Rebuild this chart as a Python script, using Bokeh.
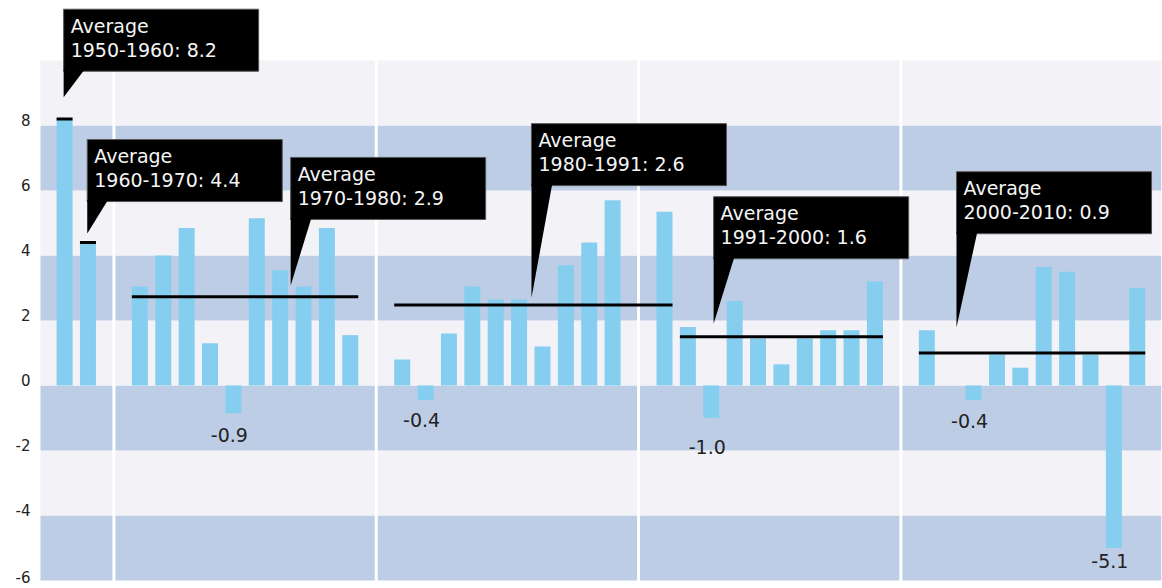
from bokeh.plotting import figure
from bokeh.models import Range1d, BoxAnnotation, Span
from bokeh.core.properties import value
from bokeh.embed import file_html
from bokeh.resources import INLINE

# ---------------- data ----------------
labels_5060 = ["1950-1960", "1960-1970"]
values_5060 = [8.2, 4.4]
labels_70s = ["1970", "1971", "1972", "1973", "1974", "1975", "1976", "1977", "1978", "1979"]
values_70s = [3.05, 4.0, 4.85, 1.3, -0.85, 5.15, 3.55, 3.05, 4.85, 1.55]
labels_80s = ["1980", "1981", "1982", "1983", "1984", "1985", "1986", "1987", "1988", "1989"]
values_80s = [0.8, -0.45, 1.6, 3.05, 2.65, 2.65, 1.2, 3.7, 4.4, 5.7]
labels_90s = ["1990", "1991", "1992", "1993", "1994", "1995", "1996", "1997", "1998", "1999"]
values_90s = [5.35, 1.8, -1.0, 2.6, 1.45, 0.65, 1.45, 1.7, 1.7, 3.2]
labels_00s = ["2000", "2001", "2002", "2003", "2004", "2005", "2006", "2007", "2008", "2009"]
values_00s = [1.7, 0.0, -0.45, 0.95, 0.55, 3.65, 3.5, 0.95, -5.0, 3.0]

# average lines: first bar, last bar, level
avg_first = ["1950-1960", "1960-1970", "1970", "1980", "1991", "2000"]
avg_last = ["1950-1960", "1960-1970", "1979", "1990", "1999", "2009"]
avg_levels = [8.2, 4.4, 2.73, 2.48, 1.5, 1.0]
avg_titles = ["1950-1960: 8.2", "1960-1970: 4.4", "1970-1980: 2.9",
              "1980-1991: 2.6", "1991-2000: 1.6", "2000-2010: 0.9"]

# value labels under negative bars
neg_at = ["1974", "1981", "1992", "2002", "2008"]
neg_text = ["-0.9", "-0.4", "-1.0", "-0.4", "-5.1"]

y_ticks = [-6, -4, -2, 0, 2, 4, 6, 8]
y_tick_labels = ["-6", "-4", "-2", "0", "2", "4", "6", "8"]

# ---------------- style / layout ----------------
BAR_COLOR = "#86CEEF"
BAND_DARK = "#BDCDE6"
BAND_LIGHT = "#F2F2F7"
GROUP_GAP = 1.22
BAR_W = 0.684
PX_X, PX_Y = 23.38, 32.5          # pixels per unit
FRAME_W, FRAME_H = 1161, 588
X0 = -1.03                        # left edge of the banded area
XL = X0 - 40 / PX_X               # room for tick labels
X1 = XL + FRAME_W / PX_X
Y_BOT, Y_TOP = -6, 10             # banded area
YL = Y_BOT - 8 / PX_Y
Y1 = YL + FRAME_H / PX_Y
FONT = value("DejaVu Sans")

# callout style: anchor bar, x shift (bar units), tip level, box bottom level
callout_anchor = ["1950-1960", "1960-1970", "1976", "1985", "1992", "2001"]
callout_dx = [-0.04, -0.03, 0.45, 0.53, 0.10, 0.27]
callout_tip_y = [8.87, 4.68, 3.08, 2.69, 1.90, 1.79]
callout_box_bottom = [9.67, 5.66, 5.11, 6.15, 3.90, 4.67]
BOX_W_PX, BOX_H_PX, POINTER_PX = 195, 62, 20.7
neg_dy = [22, 20, 29, 21, 13]
tick_dy = [-4, -6, -6, -6, -6, -6, -6, -6]

# ---------------- positions ----------------
groups = [(labels_5060, values_5060), (labels_70s, values_70s), (labels_80s, values_80s),
          (labels_90s, values_90s), (labels_00s, values_00s)]
xs, labs, vals, group_bounds = [], [], [], []
pos = 0.0
for gi, (gl, gv) in enumerate(groups):
    if gi > 0:
        pos += GROUP_GAP
    start = pos
    for l, v in zip(gl, gv):
        xs.append(pos); labs.append(l); vals.append(v)
        pos += 1
    group_bounds.append((start, pos - 1))
xmap = dict(zip(labs, xs))
vmap = dict(zip(labs, vals))

p = figure(frame_width=FRAME_W, frame_height=FRAME_H,
           x_range=Range1d(XL, X1), y_range=Range1d(YL, Y1),
           output_backend="svg", toolbar_location=None,
           x_axis_location=None, y_axis_location=None,
           title=None, min_border_left=0, min_border_right=1, min_border_top=0,
           min_border_bottom=0, background_fill_color="white",
           border_fill_color="white", outline_line_color=None)
p.grid.visible = False

# background bands
for i, b in enumerate(range(Y_BOT, Y_TOP, 2)):
    p.add_layout(BoxAnnotation(left=X0, bottom=b, top=b + 2,
                               fill_color=BAND_DARK if i % 2 == 0 else BAND_LIGHT,
                               fill_alpha=1, line_color=None, level="underlay"))
# group separators
for (a0, a1), (b0, b1) in zip(group_bounds[:-1], group_bounds[1:]):
    p.add_layout(Span(location=(a1 + b0) / 2, dimension="height", line_color="white",
                      line_width=3, level="underlay"))

p.vbar(x=xs, top=vals, bottom=0, width=BAR_W, fill_color=BAR_COLOR, line_color=None)

# average lines
p.segment(x0=[xmap[a] - BAR_W / 2 for a in avg_first], x1=[xmap[a] + BAR_W / 2 for a in avg_last],
          y0=avg_levels, y1=avg_levels, line_color="black", line_width=3, line_cap="butt")

# negative labels
p.text(x=[xmap[a] for a in neg_at], y=[vmap[a] for a in neg_at], text=neg_text,
       x_offset=-4, y_offset=neg_dy, text_align="center", text_baseline="middle",
       text_font=FONT, text_font_size="19px", text_color="#222222")

# callouts
tx = [xmap[a] + d for a, d in zip(callout_anchor, callout_dx)]
bw = BOX_W_PX / PX_X
bh = BOX_H_PX / PX_Y
tops = [b + bh for b in callout_box_bottom]
p.quad(left=tx, right=[x + bw for x in tx], bottom=callout_box_bottom, top=tops,
       fill_color="black", line_color="#555555", line_width=1)
p.patches(xs=[[x, x + POINTER_PX / PX_X, x] for x in tx],
          ys=[[b + 1.5 / PX_Y, b + 1.5 / PX_Y, t] for b, t in zip(callout_box_bottom, callout_tip_y)],
          fill_color="black", line_color=None)
p.text(x=tx, y=tops, text=["Average"] * len(tx), x_offset=7, y_offset=16.5,
       text_baseline="middle", text_font=FONT, text_font_size="19px", text_color="#F5F5F5")
p.text(x=tx, y=tops, text=avg_titles, x_offset=7, y_offset=40.5,
       text_baseline="middle", text_font=FONT, text_font_size="19px", text_color="#F5F5F5")

# y tick labels
p.text(x=[X0] * len(y_ticks), y=y_ticks, text=y_tick_labels, x_offset=-10, y_offset=tick_dy,
       text_align="right", text_baseline="middle", text_font=FONT,
       text_font_size="15px", text_color="#222222")

open("out.html", "w").write(file_html(p, INLINE))
